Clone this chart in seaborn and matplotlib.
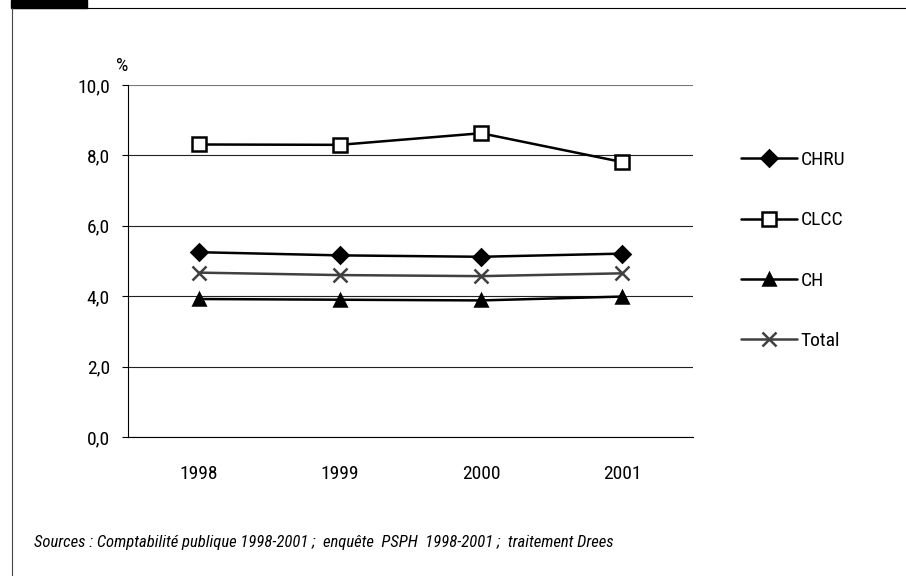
import matplotlib
matplotlib.use("Agg")
import matplotlib.pyplot as plt
from matplotlib.lines import Line2D
from matplotlib.patches import Rectangle
from matplotlib.ticker import FuncFormatter
from matplotlib import font_manager
import seaborn as sns

years = ["1998", "1999", "2000", "2001"]
chru = [5.25, 5.16, 5.12, 5.21]
clcc = [8.31, 8.30, 8.63, 7.81]
ch = [3.92, 3.90, 3.88, 3.99]
total = [4.67, 4.60, 4.57, 4.65]
y_ticks = [0, 2, 4, 6, 8, 10]
source = "Sources : Comptabilité publique 1998-2001 ;  enquête  PSPH  1998-2001 ;  traitement Drees"

sns.set_style("white")
installed = {f.name for f in font_manager.fontManager.ttflist}
font = next((f for f in ["Liberation Sans Narrow", "DejaVu Sans Condensed", "Roboto Condensed",
                         "Liberation Sans"] if f in installed), "DejaVu Sans")
plt.rcParams["font.family"] = [font, "DejaVu Sans"]
plt.rcParams["text.color"] = "black"
plt.rcParams["xtick.color"] = "black"
plt.rcParams["ytick.color"] = "black"

fig = plt.figure(figsize=(9.06, 5.76), dpi=100)
ax = fig.add_axes([128 / 906, 1 - 437 / 576, (693 - 128) / 906, (437 - 85) / 576])

# series: name, values, marker, colour, face, size
series = [
    ("CHRU", chru, "D", "black", "black", 8),
    ("CLCC", clcc, "s", "black", "white", 10),
    ("CH", ch, "^", "black", "black", 9),
    ("Total", total, "x", "#404040", "#404040", 10),
]

for name, vals, mk, col, face, ms in series:
    sns.lineplot(x=years, y=vals, ax=ax, color=col, linewidth=1.8, marker=mk,
                 markersize=ms, markerfacecolor=face, markeredgecolor=col,
                 markeredgewidth=1.8, label=name, zorder=3)

ax.set_xlim(-0.5, 3.5)
ax.set_ylim(0, 10)
ax.set_yticks(y_ticks)
ax.yaxis.set_major_formatter(FuncFormatter(lambda v, p: f"{v:.1f}".replace(".", ",")))
ax.grid(axis="y", color="#222222", linewidth=0.8)
ax.yaxis.get_gridlines()[-1].set_color("#777777")
ax.set_axisbelow(True)
for s in ["top", "right"]:
    ax.spines[s].set_visible(False)
ax.spines["left"].set_color("black")
ax.spines["left"].set_linewidth(0.8)
ax.spines["bottom"].set_color("black")
ax.spines["bottom"].set_linewidth(0.8)
ax.tick_params(axis="y", left=True, length=4, width=0.8, labelsize=14, pad=9)
ax.tick_params(axis="x", bottom=False, labelsize=14, pad=17)
ax.set_xlabel("")
ax.set_ylabel("")
ax.text(-0.01, 1.028, "%", transform=ax.transAxes, fontsize=14, ha="center", va="bottom")

ax.legend_.remove()
handles, labels = ax.get_legend_handles_labels()
fig.legend(handles, labels, loc="upper left", bbox_to_anchor=(741 / 906, 1 - 151 / 576),
           frameon=False, fontsize=14, labelspacing=2.18, handlelength=2.88,
           handletextpad=0.2, borderpad=0, borderaxespad=0)

fig.text(34 / 906, 1 - 543 / 576, source, fontsize=12, style="italic", va="center", ha="left")

# outer frame and corner block
fig.add_artist(Line2D([12 / 906, 1], [1 - 7.5 / 576, 1 - 7.5 / 576], color="black", linewidth=0.8))
fig.add_artist(Line2D([12 / 906, 12 / 906], [0, 1 - 7.5 / 576], color="#444444", linewidth=0.8))
fig.add_artist(Rectangle((11 / 906, 1 - 7.5 / 576), 76 / 906, 7.5 / 576, color="black",
                         transform=fig.transFigure))

fig.savefig("out.png", dpi=100)
